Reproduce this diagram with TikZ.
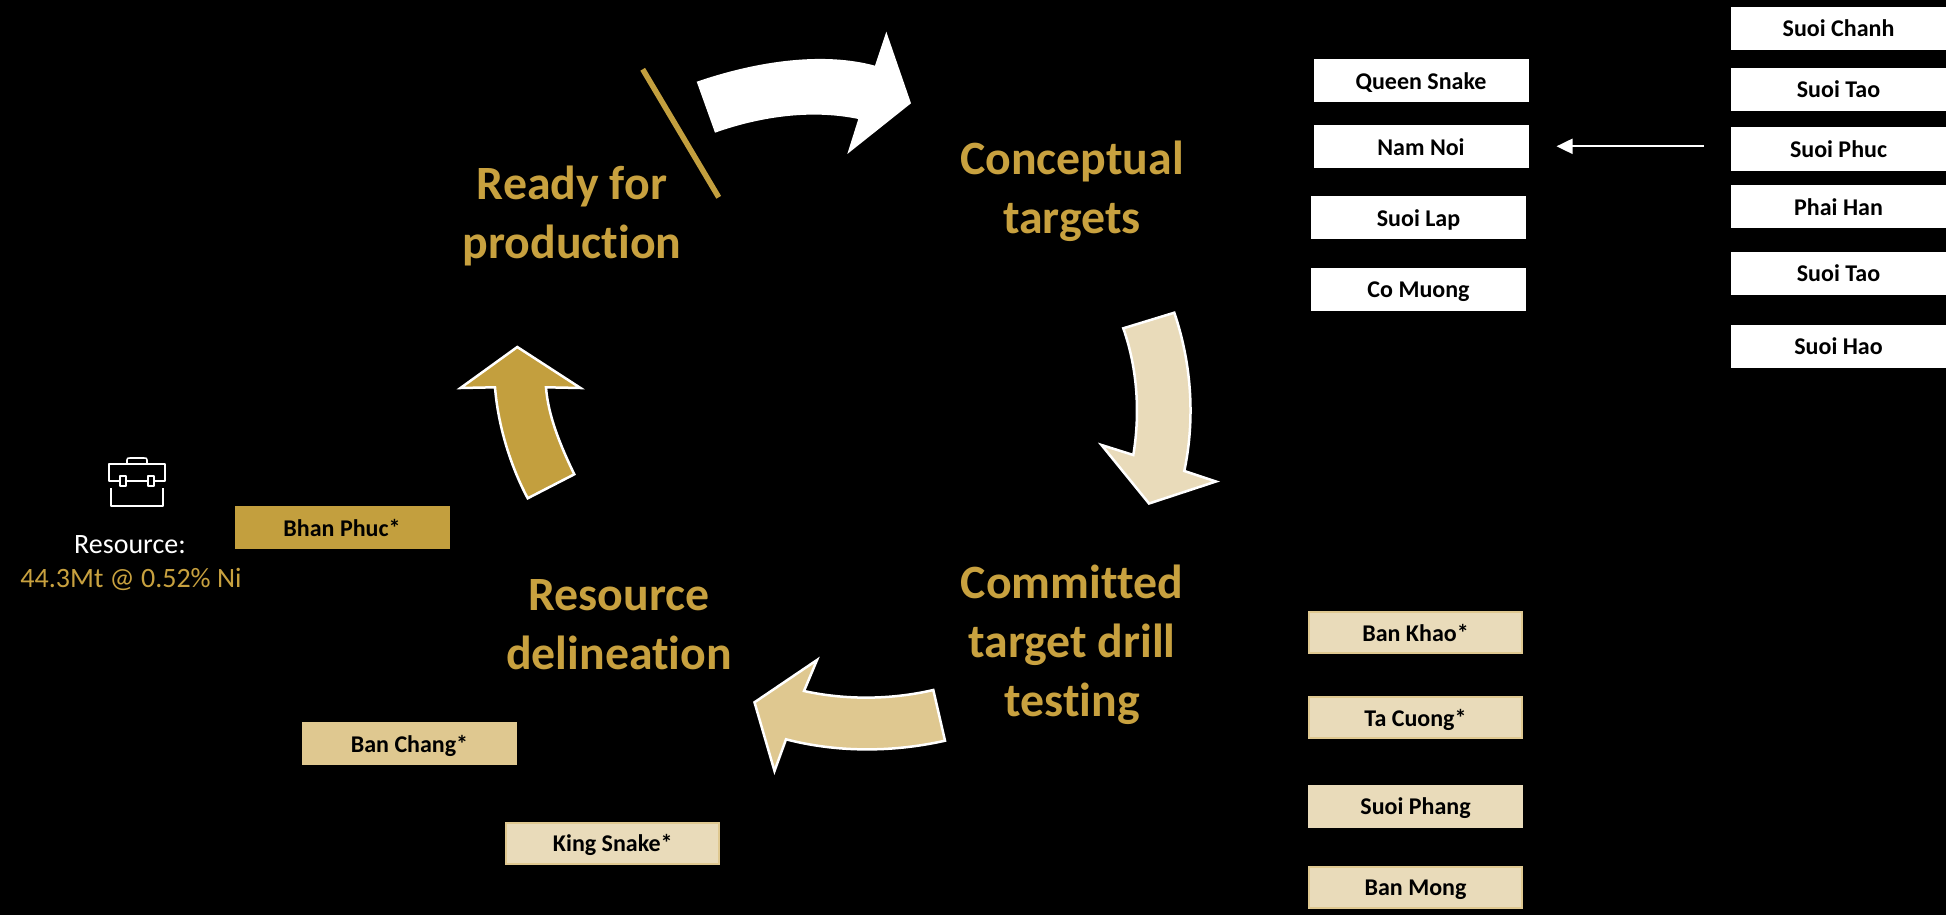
\documentclass[tikz,border=0pt]{standalone}
\usepackage{fontspec}
\usetikzlibrary{arrows.meta}
\setmainfont[Ligatures=NoCommon]{Carlito}
\definecolor{gold}{HTML}{C39F3E}
\definecolor{goldtext}{HTML}{C8A13F}
\definecolor{midgold}{HTML}{DFC890}
\definecolor{lightgold}{HTML}{E9DBBA}
\tikzset{
  px/.style={x=1pt,y=-1pt},
  stagebox/.style={minimum width=215pt,minimum height=43pt,inner sep=0pt,text height=17pt,text depth=0pt,font=\fontsize{24}{28}\selectfont\bfseries,text=black,anchor=center},
  whitebox/.style={stagebox,fill=white},
  lightbox/.style={stagebox,fill=lightgold},
  edgedbox/.style={stagebox,fill=lightgold,draw=midgold,line width=2pt,minimum width=213pt,minimum height=41pt},
  bigtext/.style={font=\fontsize{47.8}{59}\selectfont\bfseries,text=goldtext,align=center,anchor=center},
  restext/.style={font=\fontsize{28}{34}\selectfont},
  flow/.style={draw=white,line width=2.5pt,miter limit=10},
}
\begin{document}
\begin{tikzpicture}[px]
\path[fill=black] (0,0) rectangle (1946,915);
\useasboundingbox (0,0) rectangle (1946,915);
% big arrows
\path[fill=white] (696.7,81.7) .. controls (760,60) and (825,52) .. (875,65.7) -- (886.3,31.7) -- (911,103.3) -- (847.3,154) -- (858.3,119) .. controls (815,110) and (765,115) .. (715,132.7) -- cycle;
\path[flow,fill=lightgold] (1123.3,328.3) -- (1174.3,312.7) .. controls (1192,365) and (1195,420) .. (1184.3,471) -- (1216,481.5) -- (1149,503.5) -- (1101.5,445) -- (1133.3,455) .. controls (1140,415) and (1138,370) .. cycle;
\path[flow,fill=midgold] (933.3,690) -- (945,740.7) .. controls (890,753) and (835,752) .. (786,739.3) -- (774.5,771) -- (754.5,702.3) -- (817,660) -- (804,691) .. controls (845,700) and (890,700) .. cycle;
\path[flow,fill=gold] (574.3,474.3) .. controls (560,445) and (548,415) .. (546,387.3) -- (580.5,388) -- (517.3,347) -- (460.5,388) -- (495,387.3) .. controls (498,425) and (510,465) .. (527.7,498.3) -- cycle;
\draw[gold,line width=5.5pt] (642.7,69.3) coordinate (slashA) -- (718.7,197.3) coordinate (slashB);
% headings
\node[bigtext] (ready) at (572,216) {Ready for\\production};
\node[bigtext] (concept) at (1072,191) {Conceptual\\targets};
\node[bigtext] (commit) at (1072,645) {Committed\\target drill\\testing};
\node[bigtext] (resource) at (619,625) {Resource\\delineation};
% right-hand white boxes
\node[whitebox] (queen) at (1421,80.8) {Queen Snake};
\node[whitebox] (nam) at (1421,146.7) {Nam Noi};
\node[whitebox] (lap) at (1418.5,217.7) {Suoi Lap};
\node[whitebox] (muong) at (1418.5,289) {Co Muong};
\node[whitebox] (chanh) at (1838.5,28.3) {Suoi Chanh};
\node[whitebox] (tao) at (1838.5,89.2) {Suoi Tao};
\node[whitebox] (phuc) at (1838.5,149) {Suoi Phuc};
\node[whitebox] (han) at (1838.5,206.5) {Phai Han};
\node[whitebox] (taob) at (1838.5,273.2) {Suoi Tao};
\node[whitebox] (hao) at (1838.5,346) {Suoi Hao};
\coordinate (arrowstart) at (1704,146.3);
\coordinate (arrowend) at (1556.5,146.3);
\draw[white,line width=2pt,-{Triangle[length=16pt,width=15pt]}] (arrowstart) -- (arrowend);
% lower boxes
\node[edgedbox] (khao) at (1415.5,632.6) {Ban Khao*};
\node[edgedbox] (cuong) at (1415.5,717.5) {Ta Cuong*};
\node[lightbox] (phang) at (1415.5,806) {Suoi Phang};
\node[edgedbox] (mong) at (1415.5,887.4) {Ban Mong};
\node[stagebox,fill=midgold] (chang) at (409.5,743.8) {Ban Chang*};
\node[edgedbox] (king) at (612.8,843.2) {King Snake*};
\node[stagebox,fill=gold] (bhan) at (342,527.5) {Bhan Phuc*};
% briefcase
\begin{scope}[white,line width=1.6pt,line join=round]
\draw (111,488) -- (111,506) -- (163,506) -- (163,488);
\draw (109,464) rectangle (165,481);
\draw (127,463.5) -- (127,460) .. controls (127,458) and (128,458) .. (130,458) -- (144,458) .. controls (146,458) and (147,458) .. (147,460) -- (147,463.5);
\draw[fill=black] (120,476) rectangle (126,486);
\draw[fill=black] (148,476) rectangle (154,486);
\draw (126,481) -- (148,481);
\end{scope}
\node[restext,text=white] (restitle) at (130,545) {Resource:};
\node[restext,text=goldtext] (resval) at (131,579) {44.3Mt @ 0.52\% Ni};
\end{tikzpicture}
\end{document}
